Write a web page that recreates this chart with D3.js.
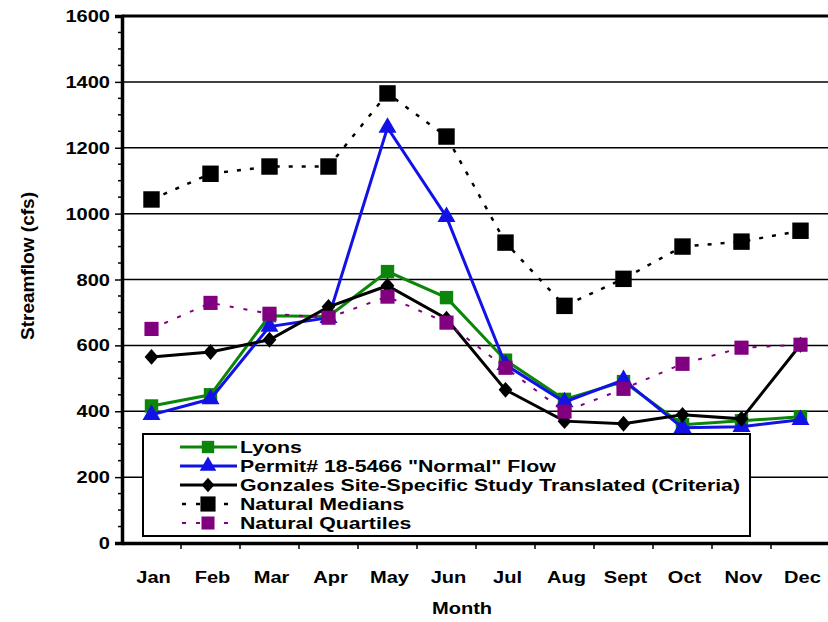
<!DOCTYPE html>
<html><head><meta charset="utf-8">
<script src="https://cdn.jsdelivr.net/npm/d3@7"></script>
<style>body{margin:0;background:#fff}svg{display:block;font-family:"Liberation Sans",Arial,sans-serif;font-weight:bold}</style>
</head><body>
<svg id="c" width="828" height="622"></svg>
<script>
const months = ["Jan","Feb","Mar","Apr","May","Jun","Jul","Aug","Sept","Oct","Nov","Dec"];
const lyons = [416,450,690,688,824,745,555,436,490,359,371,383];
const permit = [389,437,657,684,1261,990,541,428,495,350,353,374];
const gonzales = [565,580,617,717,781,681,465,370,362,389,377,602];
const medians = [1043,1121,1143,1143,1365,1234,912,720,802,900,915,948];
const quartiles = [650,729,696,684,748,669,532,399,468,544,593,602];
const yTicks = [0,200,400,600,800,1000,1200,1400,1600];
const seriesNames = ["Lyons","Permit# 18-5466 \"Normal\" Flow","Gonzales Site-Specific Study Translated (Criteria)","Natural Medians","Natural Quartiles"];

const svg = d3.select("#c");
const L=122, R=830, T=16, B=543;
const SX = 1.18;
const x = d3.scaleBand().domain(months).range([L,R]);
const y = d3.scaleLinear().domain([0,1600]).range([B,T]);
const cx = m => x(m)+x.bandwidth()/2;

function txt(g, px, py, s, size, anchor, sx){
  return g.append("text")
    .attr("transform", `translate(${px},${py}) scale(${sx||SX},1)`)
    .attr("text-anchor", anchor||"start").attr("font-size", size).attr("fill","#000").text(s);
}

// gridlines
svg.append("g").selectAll("line").data(yTicks.filter(v=>v>0&&v<1600)).join("line")
  .attr("x1",L).attr("x2",R).attr("y1",d=>y(d)).attr("y2",d=>y(d))
  .attr("stroke","#000").attr("stroke-width",1.5);
// top border
svg.append("line").attr("x1",L).attr("x2",R).attr("y1",y(1600)).attr("y2",y(1600)).attr("stroke","#000").attr("stroke-width",3);

// y axis minor ticks
const minor = d3.range(0,1601,50).filter(v=>v%200!==0);
svg.append("g").selectAll("line").data(minor).join("line")
  .attr("x1",L-4).attr("x2",L).attr("y1",d=>y(d)).attr("y2",d=>y(d)).attr("stroke","#000").attr("stroke-width",1.5);
const yAxis = d3.axisLeft(y).tickValues(yTicks).tickSize(7).tickFormat("");
const gy = svg.append("g").attr("transform",`translate(${L},0)`).call(yAxis);
gy.select(".domain").attr("stroke-width",3.5);
gy.selectAll(".tick line").attr("stroke-width",1.5);
const yl = svg.append("g");
yTicks.forEach(v=>txt(yl, 110, y(v)+6, d3.format("d")(v), 17, "end"));

// x axis
const xAxis = d3.axisBottom(x).tickSize(0).tickFormat("");
const gx = svg.append("g").attr("transform",`translate(0,${B})`).call(xAxis);
gx.select(".domain").attr("stroke-width",3.5);
svg.append("g").selectAll("line").data(months.slice(1)).join("line")
  .attr("x1",d=>x(d)).attr("x2",d=>x(d)).attr("y1",B).attr("y2",B+6).attr("stroke","#000").attr("stroke-width",1.5);
const xl = svg.append("g");
months.forEach(m=>txt(xl, cx(m)+2, 583, m, 17, "middle"));

// titles
txt(svg, 462, 614, "Month", 17, "middle");
svg.append("text").attr("transform",`translate(34,266) rotate(-90) scale(1.12,1.1)`)
  .attr("text-anchor","middle").attr("font-size",17).text("Streamflow (cfs)");

const series = [
  {name:seriesNames[0], vals:lyons, color:"#0b860b", width:3, dash:null, sym:d3.symbolSquare, size:180, tf:""},
  {name:seriesNames[1], vals:permit, color:"#1212e6", width:3, dash:null, sym:d3.symbolTriangle, size:140, tf:""},
  {name:seriesNames[2], vals:gonzales, color:"#000", width:3, dash:null, sym:d3.symbolSquare, size:95, tf:" scale(1,1.15) rotate(45)"},
  {name:seriesNames[3], vals:medians, color:"#000", width:2.5, dash:"4,9", sym:d3.symbolSquare, size:270, tf:""},
  {name:seriesNames[4], vals:quartiles, color:"#800080", width:2, dash:"4,10", sym:d3.symbolSquare, size:200, tf:""},
];
const line = d3.line().x((d,i)=>cx(months[i])).y(d=>y(d));
series.forEach(s=>{
  svg.append("path").datum(s.vals).attr("d",line).attr("fill","none").attr("stroke",s.color)
    .attr("stroke-width",s.width).attr("stroke-dasharray",s.dash);
  svg.append("g").selectAll("path").data(s.vals).join("path")
    .attr("d",d3.symbol().type(s.sym).size(s.size))
    .attr("transform",(d,i)=>`translate(${cx(months[i])},${y(d)})${s.tf}`).attr("fill",s.color);
});

// legend
const lg = svg.append("g");
lg.append("rect").attr("x",143).attr("y",434).attr("width",607).attr("height",102).attr("fill","#fff").attr("stroke","#000").attr("stroke-width",2);
const rowY = [447,466,485,504,523];
series.forEach((s,i)=>{
  lg.append("line").attr("x1",180).attr("x2",237).attr("y1",rowY[i]).attr("y2",rowY[i])
    .attr("stroke",s.color).attr("stroke-width",s.width).attr("stroke-dasharray",s.dash?"4,10":null)
    .attr("stroke-dashoffset", s.dash? -2 : null);
  lg.append("path").attr("d",d3.symbol().type(s.sym).size(s.size*0.85)).attr("transform",`translate(208,${rowY[i]})${s.tf}`).attr("fill",s.color);
  txt(lg, 240, rowY[i]+6, s.name, 16.5, "start", 1.29);
});
</script>
</body></html>
